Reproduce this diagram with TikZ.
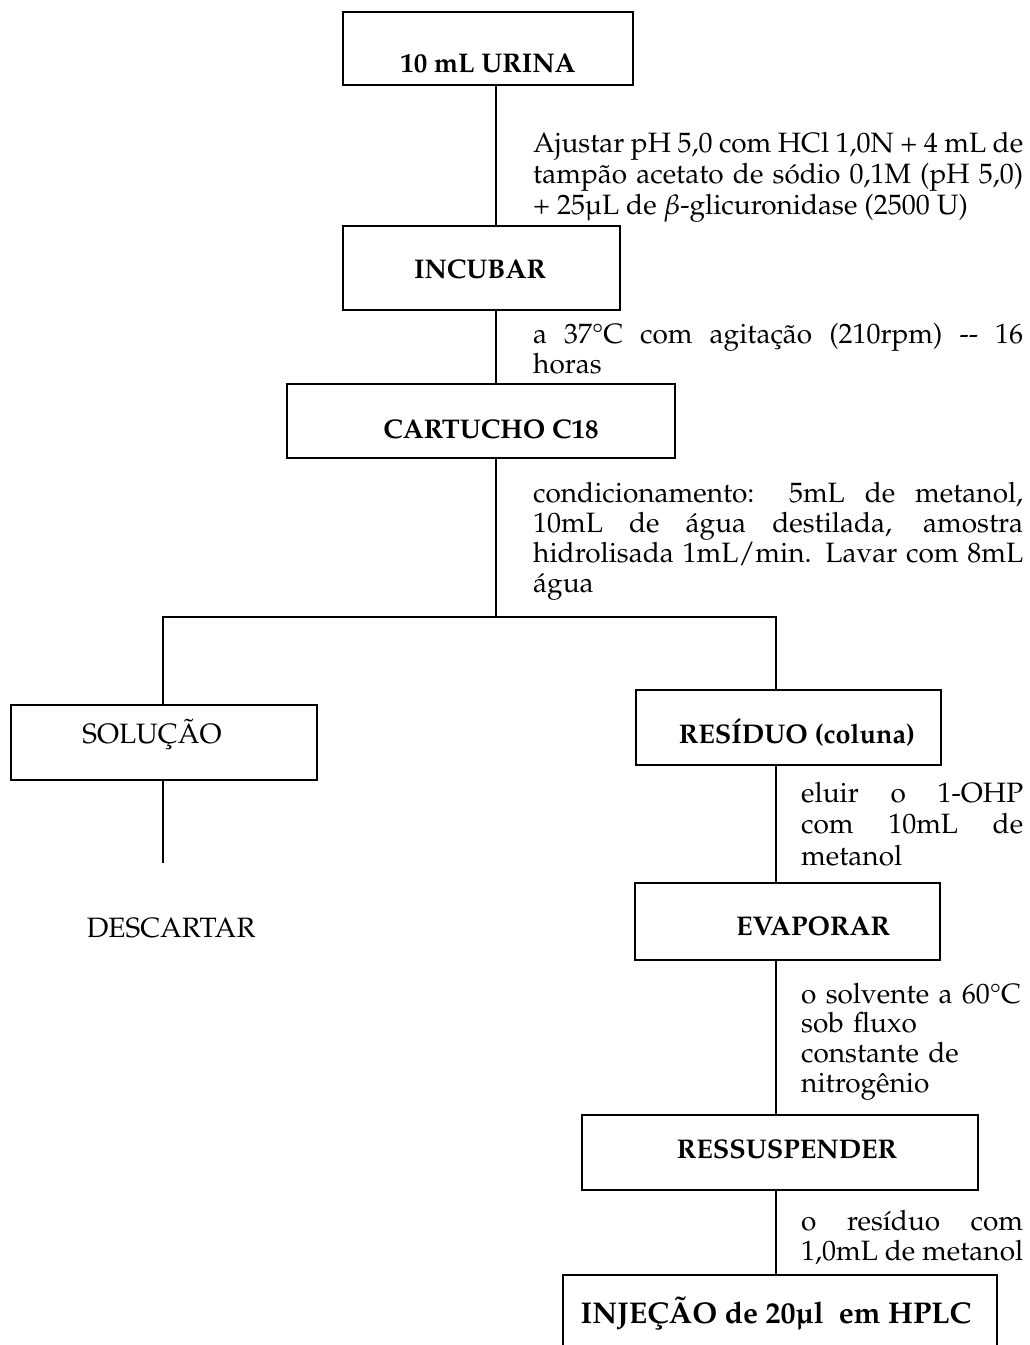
\documentclass[tikz,border=0pt]{standalone}
\usepackage[T1]{fontenc}
\usepackage{mathpazo}
\usepackage{textcomp}
\newcommand{\notefont}[1]{\fontsize{28}{#1}\selectfont}
\begin{document}
\begin{tikzpicture}[x=1pt,y=-1pt,
  box/.style={draw, line width=2pt, inner sep=0},
  bt/.style={font=\fontsize{27}{30}\selectfont\bfseries, inner sep=0, anchor=base},
  rt/.style={font=\fontsize{28}{30}\selectfont, inner sep=0, anchor=base},
  note/.style={font=\fontsize{28}{30}\selectfont, inner sep=0, anchor=base west, align=justify},
  conn/.style={line width=1.8pt}]
\useasboundingbox[fill=white] (0,0) rectangle (1030,1345);
% boxes
\node[box, minimum width=290, minimum height=73] (urina) at (488,48.5) {};
\node[box, minimum width=277, minimum height=84] (incubar) at (481.5,268) {};
\node[box, minimum width=388, minimum height=74] (cart) at (481,421) {};
\node[box, minimum width=306, minimum height=75] (solu) at (164,742.5) {};
\node[box, minimum width=305, minimum height=75] (resid) at (788.5,727.5) {};
\node[box, minimum width=305, minimum height=77] (evap) at (787.5,921.5) {};
\node[box, minimum width=396, minimum height=75] (ressus) at (780,1152.5) {};
\node[box, minimum width=434, minimum height=90] (injec) at (780,1320) {};
% box texts
\node[bt] (turina) at (488,72) {10 mL URINA};
\node[bt] (tincubar) at (480,278) {INCUBAR};
\node[bt] (tcart) at (491,438) {CARTUCHO C18};
\node[rt] (tsolu) at (152,743) {SOLUÇÃO};
\node[rt] (tdesc) at (171,937) {DESCARTAR};
\node[bt] (tresid) at (797,743) {RESÍDUO (coluna)};
\node[bt] (tevap) at (813,935) {EVAPORAR};
\node[bt] (tressus) at (787,1158) {RESSUSPENDER};
\node[bt, font=\fontsize{30}{34}\selectfont\bfseries] (tinjec) at (776,1323) {INJEÇÃO de 20\textmu l\ \ em HPLC};
% notes
\node[note, text width=490] (n1) at (533,152) {\notefont{31}Ajustar pH 5,0 com HCl 1,0N + 4 mL de\linebreak tampão acetato de sódio 0,1M (pH 5,0)\linebreak + 25\textmu L de $\beta$-glicuronidase (2500 U)\par};
\node[note, text width=490] (n2) at (533,343) {\notefont{30}a 37\textdegree C com agitação (210rpm) -{}- 16\linebreak horas\par};
\node[note, text width=490] (n3) at (533,502) {\notefont{30}condicionamento: 5mL de metanol,\linebreak 10mL de água destilada, amostra\linebreak hidrolisada 1mL/min. Lavar com 8mL\linebreak água\par};
\node[note, text width=222] (n4) at (801,802) {\notefont{31.5}eluir o 1-OHP\linebreak com 10mL de\linebreak metanol\par};
\node[note, text width=222, align=left] (n5) at (801,1003) {\notefont{29.7}o solvente a 60\textdegree C\\ sob fluxo\\ constante de\\ nitrogênio\par};
\node[note, text width=222] (n6) at (801,1230) {\notefont{30}o resíduo com\linebreak 1,0mL de metanol\par};
% connectors
\coordinate (cx) at (496,0);
\coordinate (rx) at (776,0);
\coordinate (split) at (496,617);
\coordinate (dend) at (163,863);
\draw[conn] (urina.south -| cx) -- (incubar.north -| cx);
\draw[conn] (incubar.south -| cx) -- (cart.north -| cx);
\draw[conn] (cart.south -| cx) -- (split);
\draw[conn] (solu.north -| dend) |- (split) -| (resid.north -| rx);
\draw[conn] (solu.south -| dend) -- (dend);
\draw[conn] (resid.south -| rx) -- (evap.north -| rx);
\draw[conn] (evap.south -| rx) -- (ressus.north -| rx);
\draw[conn] (ressus.south -| rx) -- (injec.north -| rx);
\end{tikzpicture}
\end{document}
